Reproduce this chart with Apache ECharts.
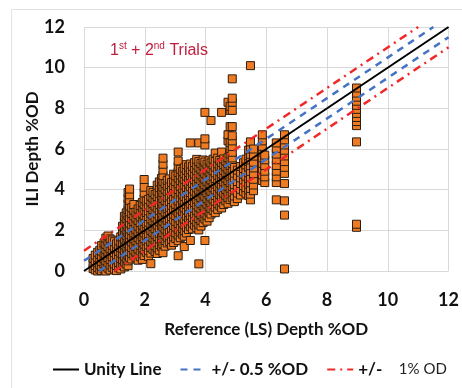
<!DOCTYPE html>
<html>
<head>
<meta charset="utf-8">
<script src="https://cdn.jsdelivr.net/npm/echarts@6/dist/echarts.min.js"></script>
<style>
  html, body { margin: 0; padding: 0; background: #fff; }
  #chart { width: 462px; height: 388px; }
</style>
</head>
<body>
<div id="chart"></div>
<script>
// Reference (LS) depth columns, %OD
const refDepth = [
  0.3, 0.37, 0.45, 0.52, 0.58, 0.66, 0.72, 0.79, 0.86, 0.93,
  1.0, 1.07, 1.14, 1.21, 1.27, 1.33, 1.39, 1.45, 1.5, 1.57,
  1.64, 1.71, 1.78, 1.85, 1.92, 1.98, 2.05, 2.12, 2.2, 2.27,
  2.34, 2.41, 2.48, 2.55, 2.6, 2.67, 2.74, 2.81, 2.88, 2.95,
  3.02, 3.1, 3.17, 3.24, 3.3, 3.37, 3.44, 3.5, 3.57, 3.64,
  3.71, 3.78, 3.85, 3.92, 3.98, 4.05, 4.12, 4.18, 4.25, 4.32,
  4.4, 4.47, 4.53, 4.6, 4.67, 4.74, 4.81, 4.88, 4.95, 5.05,
  5.15, 5.25, 5.33, 5.42, 5.48, 5.58, 5.87, 5.95, 6.33, 6.6,
  8.97
];

// ILI depths reported at each reference column, %OD
const iliDepth = [
  [0.12, 0.38, 0.62],
  [0.05, 0.27, 0.5, 0.78],
  [0.0, 0.18, 0.41, 0.66, 0.92],
  [0.08, 0.3, 0.55, 0.81, 1.02],
  [0.02, 0.22, 0.47, 0.73, 0.98, 1.25],
  [0.1, 0.36, 0.6, 0.88, 1.12, 1.38],
  [0.0, 0.24, 0.5, 0.77, 1.05, 1.31, 1.62],
  [0.14, 0.4, 0.66, 0.93, 1.2, 1.47, 1.72],
  [0.05, 0.3, 0.57, 0.84, 1.1, 1.36, 1.58],
  [0.18, 0.45, 0.71, 0.98, 1.26, 1.52],
  [0.09, 0.35, 0.62, 0.9, 1.17, 1.44],
  [0.02, 0.27, 0.55, 0.8, 1.08, 1.33],
  [0.16, 0.42, 0.7, 0.96, 1.22, 1.48],
  [0.1, 0.34, 0.61, 0.88, 1.15, 1.41, 1.68],
  [0.28, 0.56, 0.84, 1.12, 1.4, 1.68, 1.96, 2.2],
  [0.2, 0.45, 0.73, 1.01, 1.29, 1.57, 1.85, 2.13, 2.41, 2.69],
  [0.34, 0.62, 0.9, 1.18, 1.46, 1.74, 2.02, 2.3, 2.58, 2.86],
  [0.26, 0.5, 0.78, 1.06, 1.34, 1.62, 1.9, 2.18, 2.46, 2.74, 3.02, 3.3, 3.58, 3.86],
  [0.67, 0.95, 1.23, 1.51, 1.79, 2.07, 2.35, 2.63, 2.91, 3.19, 3.47, 3.75, 4.03],
  [0.59, 0.87, 1.15, 1.43, 1.71, 1.99, 2.27, 2.55, 2.83, 3.11],
  [0.75, 1.03, 1.31, 1.59, 1.87, 2.15, 2.43, 2.71, 2.99, 3.27],
  [0.65, 0.93, 1.21, 1.49, 1.77, 2.05, 2.33, 2.61, 2.89],
  [0.53, 0.81, 1.09, 1.37, 1.65, 1.93, 2.21, 2.49, 2.77, 3.05],
  [0.7, 0.98, 1.26, 1.54, 1.82, 2.1, 2.38, 2.66, 2.94, 3.22],
  [0.57, 0.85, 1.13, 1.41, 1.69, 1.97, 2.25, 2.53, 2.81, 3.09, 3.37],
  [0.76, 1.04, 1.32, 1.6, 1.88, 2.16, 2.44, 2.72, 3.0, 3.28, 3.56, 3.84, 4.12, 4.5],
  [0.92, 1.2, 1.48, 1.76, 2.04, 2.32, 2.6, 2.88, 3.16, 3.44],
  [0.72, 1.0, 1.28, 1.56, 1.84, 2.12, 2.4, 2.68, 2.96, 3.24, 3.52],
  [0.36, 0.88, 1.16, 1.44, 1.72, 2.0, 2.28, 2.56, 2.84, 3.12, 3.4, 3.68, 3.96],
  [1.07, 1.35, 1.63, 1.91, 2.19, 2.47, 2.75, 3.03, 3.31, 3.59, 3.87],
  [0.96, 1.24, 1.52, 1.8, 2.08, 2.36, 2.64, 2.92, 3.2, 3.48, 3.76],
  [0.86, 1.14, 1.42, 1.7, 1.98, 2.26, 2.54, 2.82, 3.1, 3.38, 3.66, 3.94, 4.22],
  [1.02, 1.3, 1.58, 1.86, 2.14, 2.42, 2.7, 2.98, 3.26, 3.54, 3.82, 4.1, 4.38],
  [1.19, 1.47, 1.75, 2.03, 2.31, 2.59, 2.87, 3.15, 3.43, 3.71, 3.99, 4.27, 4.55],
  [0.9, 1.33, 1.61, 1.89, 2.17, 2.45, 2.73, 3.01, 3.29, 3.57, 3.85, 4.13, 4.41, 4.69, 4.97, 5.25, 5.55],
  [1.22, 1.5, 1.78, 2.06, 2.34, 2.62, 2.9, 3.18, 3.46, 3.74, 4.02, 4.3],
  [1.38, 1.66, 1.94, 2.22, 2.5, 2.78, 3.06, 3.34, 3.62, 3.9, 4.18, 4.46],
  [1.45, 1.73, 2.01, 2.29, 2.57, 2.85, 3.13, 3.41, 3.69, 3.97, 4.25, 4.53],
  [1.27, 1.55, 1.83, 2.11, 2.39, 2.67, 2.95, 3.23, 3.51, 3.79, 4.07, 4.35],
  [1.4, 1.68, 1.96, 2.24, 2.52, 2.8, 3.08, 3.36, 3.64, 3.92, 4.2, 4.48, 4.76],
  [1.6, 1.88, 2.16, 2.44, 2.72, 3.0, 3.28, 3.56, 3.84, 4.12, 4.4, 4.68],
  [0.75, 1.49, 1.77, 2.05, 2.33, 2.61, 2.89, 3.17, 3.45, 3.73, 4.01, 4.29, 4.57, 4.85, 5.13, 5.41, 5.85],
  [1.64, 1.92, 2.2, 2.48, 2.76, 3.04, 3.32, 3.6, 3.88, 4.16, 4.44, 4.72, 5.0],
  [1.81, 2.09, 2.37, 2.65, 2.93, 3.21, 3.49, 3.77, 4.05, 4.33, 4.61, 4.89],
  [1.2, 1.71, 1.99, 2.27, 2.55, 2.83, 3.11, 3.39, 3.67, 3.95, 4.23, 4.51, 4.79, 5.07],
  [1.87, 2.15, 2.43, 2.71, 2.99, 3.27, 3.55, 3.83, 4.11, 4.39, 4.67, 4.95, 5.23],
  [2.04, 2.32, 2.6, 2.88, 3.16, 3.44, 3.72, 4.0, 4.28, 4.56, 4.84, 5.12],
  [1.5, 2.18, 2.46, 2.74, 3.02, 3.3, 3.58, 3.86, 4.14, 4.42, 4.7, 4.98, 5.26, 6.3],
  [2.07, 2.35, 2.63, 2.91, 3.19, 3.47, 3.75, 4.03, 4.31, 4.59, 4.87, 5.15],
  [2.25, 2.53, 2.81, 3.09, 3.37, 3.65, 3.93, 4.21, 4.49, 4.77, 5.05, 5.33],
  [2.13, 2.41, 2.69, 2.97, 3.25, 3.53, 3.81, 4.09, 4.37, 4.65, 4.93, 5.21, 5.49],
  [0.35, 2.02, 2.3, 2.58, 2.86, 3.14, 3.42, 3.7, 3.98, 4.26, 4.54, 4.82, 5.1, 5.38, 6.3],
  [2.21, 2.49, 2.77, 3.05, 3.33, 3.61, 3.89, 4.17, 4.45, 4.73, 5.01, 5.29],
  [2.38, 2.66, 2.94, 3.22, 3.5, 3.78, 4.06, 4.34, 4.62, 4.9, 5.18, 5.46],
  [1.5, 2.56, 2.84, 3.12, 3.4, 3.68, 3.96, 4.24, 4.52, 4.8, 5.08, 5.36, 6.2, 6.5, 7.8],
  [2.45, 2.73, 3.01, 3.29, 3.57, 3.85, 4.13, 4.41, 4.69, 4.97, 5.25],
  [2.62, 2.9, 3.18, 3.46, 3.74, 4.02, 4.3, 4.58, 4.86, 5.14, 5.42],
  [2.8, 3.08, 3.36, 3.64, 3.92, 4.2, 4.48, 4.76, 5.04, 5.32, 7.4],
  [2.98, 3.26, 3.54, 3.82, 4.1, 4.38, 4.66, 4.94, 5.22, 5.5],
  [2.87, 3.15, 3.43, 3.71, 3.99, 4.27, 4.55, 4.83, 5.11, 5.39, 5.8],
  [3.03, 3.31, 3.59, 3.87, 4.15, 4.43, 4.71, 4.99, 5.27, 5.55],
  [3.2, 3.48, 3.76, 4.04, 4.32, 4.6, 4.88, 5.16, 5.44],
  [3.1, 3.38, 3.66, 3.94, 4.22, 4.5, 4.78, 5.06, 5.34, 5.85, 7.8],
  [3.27, 3.55, 3.83, 4.11, 4.39, 4.67, 4.95, 5.23, 5.51],
  [3.45, 3.73, 4.01, 4.29, 4.57, 4.85, 5.13, 5.41],
  [3.33, 3.61, 3.89, 4.17, 4.45, 4.73, 5.01, 5.29, 5.57, 6.4, 6.7, 8.3],
  [3.51, 3.79, 4.07, 4.35, 4.63, 4.91, 5.19, 5.47, 5.75, 6.03, 6.31, 7.1, 7.9, 8.1],
  [3.6, 3.88, 4.16, 4.44, 4.72, 5.0, 5.28, 5.56, 5.84, 6.12, 6.4, 6.65, 7.1, 7.9, 8.3, 8.5, 9.45],
  [3.41, 3.69, 3.97, 4.25, 4.53, 4.81, 5.09],
  [3.56, 3.84, 4.12, 4.4, 4.68, 4.96],
  [3.74, 4.02, 4.3, 4.58, 4.86, 5.14],
  [3.92, 4.2, 4.48, 4.76, 5.04, 5.32],
  [3.82, 4.1, 4.38, 4.66, 4.94, 5.22, 5.5],
  [3.71, 3.99, 4.27, 4.55, 4.83, 5.11, 5.39, 5.67, 5.95],
  [3.5, 3.78, 4.06, 4.34, 4.62, 4.9, 5.18, 5.46, 5.74, 6.0, 6.35, 10.1],
  [3.95, 4.23, 4.51, 4.79, 5.07, 5.35, 5.65, 6.0],
  [4.45, 4.73, 5.01, 5.29, 5.57, 5.85, 6.13, 6.4, 6.7],
  [4.35, 4.63, 4.91, 5.19, 5.47, 5.7],
  [3.5, 4.35, 4.63, 4.91, 5.19, 5.47, 5.75, 6.03, 6.3],
  [0.1, 2.75, 3.45, 4.3, 4.8, 5.1, 5.38, 5.66, 5.94, 6.2, 6.45, 6.7],
  [2.15, 2.3, 6.35, 7.15, 7.35, 7.55, 7.75, 7.95, 8.15, 8.35, 8.55, 8.75, 9.0]
];

// Axis range and ticks (both axes)
const axisMin = 0;
const axisMax = 12;
const axisStep = 2;

// Tolerance bands around the unity line, %OD
const bandHalf = 0.5;
const bandFull = 1;

const legendNames = ['Unity Line', '+/- 0.5 %OD', '+/- 1% OD'];

const points = [];
refDepth.forEach((x, i) => {
  iliDepth[i].forEach(y => points.push([x, y]));
});

// Straight line y = x + offset, clipped to the square axis window
function offsetLine(offset) {
  const x0 = Math.max(axisMin, axisMin - offset);
  const x1 = Math.min(axisMax, axisMax - offset);
  return [[x0, x0 + offset], [x1, x1 + offset]];
}

const FONT = 'Lato, "Open Sans", sans-serif';

const chart = echarts.init(document.getElementById('chart'), null, { renderer: 'canvas' });

const axisCommon = {
  type: 'value',
  min: axisMin,
  max: axisMax,
  interval: axisStep,
  axisLine: { show: false },
  axisTick: { show: false },
  splitLine: { show: true, lineStyle: { color: '#d9d9d9', width: 1 } },
  nameLocation: 'middle',
  nameMoveOverlap: false,
  nameTextStyle: { fontFamily: FONT, fontWeight: 'bold', fontSize: 17, color: '#111' },
  axisLabel: { fontFamily: FONT, fontWeight: 'bold', fontSize: 18, color: '#111' }
};

const blueStyle = { color: '#4472C4', width: 2.5, type: [7, 6] };
const redStyle = { color: '#F02828', width: 2.5, type: [8, 5, 2, 5] };

chart.setOption({
  animation: false,
  backgroundColor: '#fff',
  grid: { left: 84, right: 10, top: 27, bottom: 117, containLabel: false },
  xAxis: Object.assign({}, axisCommon, {
    name: 'Reference (LS) Depth %OD',
    nameGap: 50,
    axisLabel: Object.assign({}, axisCommon.axisLabel, { margin: 20 })
  }),
  yAxis: Object.assign({}, axisCommon, {
    name: 'ILI Depth %OD',
    nameGap: 43,
    axisLabel: Object.assign({}, axisCommon.axisLabel, { margin: 19 })
  }),
  legend: {
    data: legendNames,
    left: 47,
    top: 356,
    itemWidth: 26,
    itemHeight: 10,
    itemGap: 18,
    itemStyle: { opacity: 0 },
    textStyle: {
      fontFamily: FONT, fontWeight: 'bold', fontSize: 17, color: '#111',
      rich: {
        b: { fontFamily: FONT, fontWeight: 'bold', fontSize: 17, color: '#111' },
        n: { fontFamily: FONT, fontWeight: 'normal', fontSize: 15, color: '#222' }
      }
    },
    formatter: name => name === '+/- 1% OD' ? '{b|+/-}    {n|1% OD}' : name
  },
  graphic: [
    {
      type: 'rect',
      left: 9, top: 7, silent: true, z: -10,
      shape: { width: 470, height: 400 },
      style: { fill: 'none', stroke: '#e2e2e2', lineWidth: 1 }
    },
    {
      type: 'text',
      left: 110, top: 41, z: 10,
      style: {
        text: '{m|1}{s|st}{m| + 2}{s|nd}{m| Trials}',
        rich: {
          m: { fontFamily: '"Liberation Sans", Arial, sans-serif', fontSize: 16, fill: '#C0203E', lineHeight: 20 },
          s: { fontFamily: '"Liberation Sans", Arial, sans-serif', fontSize: 10, fill: '#C0203E', verticalAlign: 'top', lineHeight: 20, padding: [0, 0, 8, 0] }
        }
      }
    }
  ],
  series: [
    {
      type: 'scatter',
      name: 'Trials',
      data: points,
      symbol: 'rect',
      symbolSize: 8,
      z: 2,
      itemStyle: { color: '#EE7A22', borderColor: '#2a1d12', borderWidth: 1, opacity: 1 }
    },
    {
      type: 'line', name: legendNames[0], data: offsetLine(0), symbol: 'none', z: 5,
      lineStyle: { color: '#000', width: 2 }, itemStyle: { color: '#000' }
    },
    {
      type: 'line', name: legendNames[1], data: offsetLine(bandHalf), symbol: 'none', z: 5,
      lineStyle: blueStyle, itemStyle: { color: blueStyle.color }
    },
    {
      type: 'line', name: legendNames[1], data: offsetLine(-bandHalf), symbol: 'none', z: 5,
      lineStyle: blueStyle, itemStyle: { color: blueStyle.color }
    },
    {
      type: 'line', name: legendNames[2], data: offsetLine(bandFull), symbol: 'none', z: 5,
      lineStyle: redStyle, itemStyle: { color: redStyle.color }
    },
    {
      type: 'line', name: legendNames[2], data: offsetLine(-bandFull), symbol: 'none', z: 5,
      lineStyle: redStyle, itemStyle: { color: redStyle.color }
    }
  ]
});
</script>
</body>
</html>
